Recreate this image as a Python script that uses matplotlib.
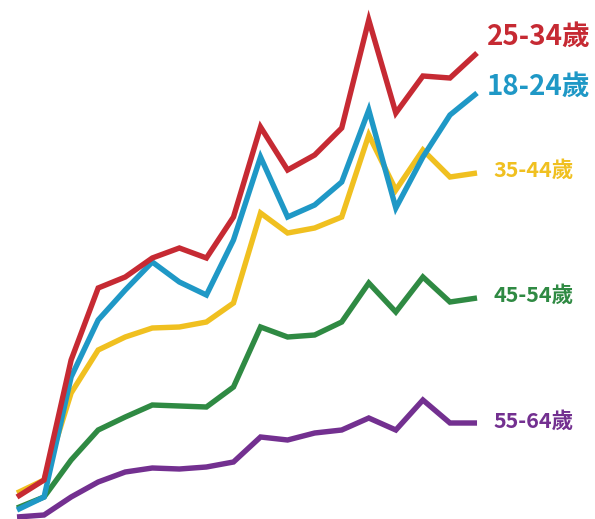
import matplotlib
matplotlib.use("Agg")
import matplotlib.pyplot as plt
import numpy as np

plt.rcParams['font.family'] = ['Noto Sans CJK TC', 'DejaVu Sans']

periods = list(range(18))
age_18_24 = [9, 22, 142, 199, 229, 257, 237, 224, 279, 362, 302, 314, 337, 409, 311, 362, 404, 426]
age_25_34 = [22, 39, 159, 231, 242, 261, 271, 261, 302, 392, 349, 364, 391, 499, 406, 443, 441, 466]
age_35_44 = [26, 39, 126, 169, 182, 191, 192, 197, 216, 306, 286, 291, 302, 384, 329, 369, 342, 346]
age_45_54 = [11, 22, 59, 89, 102, 114, 113, 112, 132, 192, 182, 184, 197, 236, 207, 242, 217, 221]
age_55_64 = [2, 4, 22, 37, 47, 51, 50, 52, 57, 82, 79, 86, 89, 101, 89, 119, 96, 96]

series = [
    ("25-34歲", age_25_34, "#c62a33", 20, 466 + 16),
    ("18-24歲", age_18_24, "#1f98c6", 20, 426 + 6),
    ("35-44歲", age_35_44, "#f0c020", 15.5, 346 + 3),
    ("45-54歲", age_45_54, "#2f8a43", 15.5, 221 + 3),
    ("55-64歲", age_55_64, "#733090", 15.5, 96 + 2),
]

fig = plt.figure(figsize=(5.95, 5.19), dpi=100)
ax = fig.add_axes([0, 0, 1, 1])
step = 27.06
ax.set_xlim(-17 / step, (595 - 17) / step)
ax.set_ylim(0, 519)
ax.axis('off')

order = ["55-64歲", "45-54歲", "35-44歲", "18-24歲", "25-34歲"]
for name in order:
    for (n, vals, col, fs, ly) in series:
        if n == name:
            ax.plot(periods, vals, color=col, lw=3.9, solid_joinstyle='miter',
                    solid_capstyle='butt', clip_on=False, zorder=3)

label_x = {"25-34歲": 17.37, "18-24歲": 17.37, "35-44歲": 17.6, "45-54歲": 17.6, "55-64歲": 17.6}
for (n, vals, col, fs, ly) in series:
    ax.text(label_x[n], ly, n, color=col, fontsize=fs, fontweight='bold',
            va='center', ha='left')

fig.savefig("out.png", dpi=100)
